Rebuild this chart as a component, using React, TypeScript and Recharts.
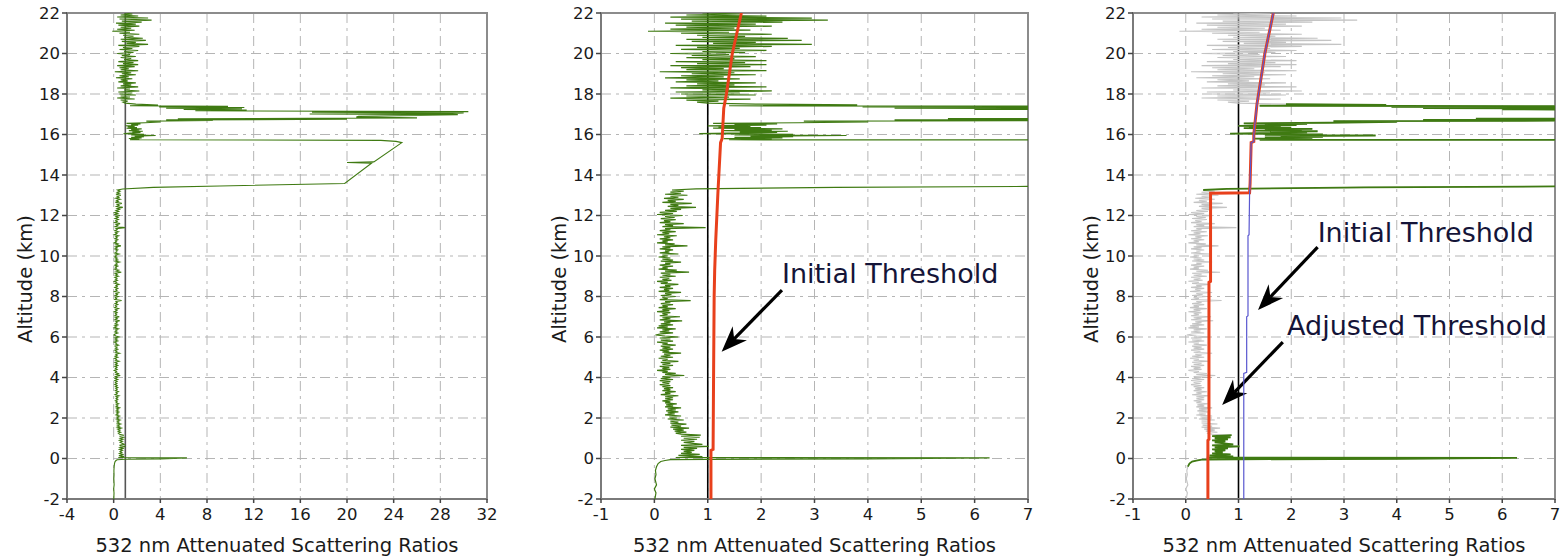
import React from 'react';
import {
  ScatterChart,
  Scatter,
  XAxis,
  YAxis,
  CartesianGrid,
  ReferenceLine,
  ReferenceArea,
  ReferenceDot,
} from 'recharts';

// [altitude (km), 532 nm attenuated scattering ratio]
type Pair = [number, number];

const altitudeTicks = [-2, 0, 2, 4, 6, 8, 10, 12, 14, 16, 18, 20, 22];
const wideRatioTicks = [-4, 0, 4, 8, 12, 16, 20, 24, 28, 32];
const narrowRatioTicks = [-1, 0, 1, 2, 3, 4, 5, 6, 7];

const upperNoise: Pair[] = [
  [22.0, 0.9], [21.95, 1.6], [21.9, 0.6], [21.85, 2.1], [21.8, 0.3], [21.75, 2.95], [21.7, 0.5],
  [21.65, 3.25], [21.6, 0.7], [21.55, 2.4], [21.5, 0.2], [21.45, 1.9], [21.4, 0.4], [21.35, 2.2],
  [21.3, 0.6], [21.25, 1.5], [21.2, 0.3], [21.15, 1.8], [21.1, -0.12], [21.05, 1.4], [21.0, 0.5],
  [20.95, 2.2], [20.9, 0.8], [20.85, 1.7], [20.8, 0.9], [20.75, 2.5], [20.7, 0.6], [20.65, 2.76],
  [20.6, 0.7], [20.55, 1.9], [20.5, 1.1], [20.45, 2.95], [20.4, 0.4], [20.35, 2.2], [20.3, 0.8],
  [20.25, 1.6], [20.2, 0.5], [20.15, 2.1], [20.1, 0.9], [20.05, 1.7], [20.0, 0.3], [19.95, 1.4],
  [19.9, 0.7], [19.85, 1.9], [19.8, 0.6], [19.75, 1.5], [19.7, 0.9], [19.65, 2.1], [19.6, 0.4],
  [19.55, 1.7], [19.5, 0.8], [19.45, 2.1], [19.4, 0.3], [19.35, 1.8], [19.3, 0.5], [19.25, 1.3],
  [19.2, 0.6], [19.15, 2.1], [19.1, 0.1], [19.05, 1.5], [19.0, 0.7], [18.95, 1.9], [18.9, 0.5],
  [18.85, 1.3], [18.8, 0.2], [18.75, 1.6], [18.7, 0.6], [18.65, 1.2], [18.6, 0.4], [18.55, 1.9],
  [18.5, 0.8], [18.45, 1.5], [18.4, 0.6], [18.35, 2.1], [18.3, 0.3], [18.25, 1.4], [18.2, 0.9],
  [18.15, 2.2], [18.1, 0.4], [18.05, 1.6], [18.0, 0.5], [17.95, 1.9], [17.9, 0.6], [17.85, 1.4],
  [17.8, 0.3], [17.75, 1.8], [17.7, 0.6], [17.65, 1.2], [17.6, 0.8], [17.55, 1.0],
];

const cirrusLayer: Pair[] = [
  [17.5, 1.9], [17.46, 3.8], [17.42, 1.4], [17.39, 9.8], [17.36, 3.9], [17.33, 11.2], [17.3, 4.5],
  [17.27, 11.0], [17.24, 6.0], [17.21, 11.4], [17.17, 7.0], [17.13, 30.4], [17.1, 17.0],
  [17.07, 30.0], [17.04, 29.0], [17.01, 16.8], [16.98, 29.5], [16.94, 26.3], [16.9, 21.0],
  [16.86, 20.8], [16.82, 26.0], [16.78, 5.5], [16.75, 20.0], [16.72, 4.5], [16.69, 8.5],
  [16.66, 2.8], [16.62, 4.0], [16.58, 2.7], [16.55, 1.1], [16.52, 2.3], [16.49, 1.5], [16.46, 2.1],
  [16.43, 1.0], [16.4, 1.8], [16.37, 1.2], [16.34, 2.0], [16.31, 1.1], [16.28, 2.4], [16.25, 1.5],
  [16.22, 2.2], [16.19, 1.3], [16.16, 2.5], [16.13, 1.6], [16.1, 2.3], [16.07, 1.4], [16.04, 0.84],
  [16.01, 2.6], [15.98, 1.5], [15.95, 3.6], [15.92, 1.8], [15.89, 2.6], [15.86, 1.5], [15.83, 2.4],
  [15.8, 1.3], [15.77, 2.2], [15.74, 1.4],
];

const dataGapSegment: Pair[] = [
  [15.71, 22.9], [15.66, 24.2], [15.6, 24.7], [14.65, 22.3], [14.62, 20.0], [14.58, 22.1],
  [13.58, 19.8], [13.46, 9.1], [13.39, 3.4], [13.31, 0.78], [13.26, 0.33],
];

const lowerNoise: Pair[] = [
  [13.2, 0.55], [13.15, 0.3], [13.1, 0.5], [13.05, 0.2], [13.0, 0.62], [12.95, 0.3], [12.9, 0.45],
  [12.85, 0.18], [12.8, 0.55], [12.75, 0.25], [12.7, 0.4], [12.65, 0.15], [12.6, 0.7], [12.55, 0.3],
  [12.5, 0.45], [12.45, 0.25], [12.4, 0.78], [12.35, 0.3], [12.3, 0.5], [12.25, 0.2], [12.2, 0.42],
  [12.15, 0.1], [12.1, 0.35], [12.05, 0.05], [12.0, 0.53],
  [11.95, 0.2], [11.9, 0.38], [11.85, 0.12], [11.8, 0.4], [11.75, 0.18], [11.7, 0.3], [11.65, 0.1],
  [11.6, 0.55], [11.55, 0.2], [11.5, 0.35], [11.45, 0.15], [11.4, 0.96], [11.35, 0.2], [11.3, 0.3],
  [11.25, 0.1], [11.2, 0.4], [11.15, 0.15], [11.1, 0.28], [11.05, 0.05], [11.0, 0.42],
  [10.95, 0.18], [10.9, 0.3], [10.85, 0.1], [10.8, 0.35], [10.75, 0.15], [10.7, 0.25], [10.65, 0.05],
  [10.6, 0.38], [10.55, 0.2], [10.5, 0.62], [10.45, 0.15], [10.4, 0.3], [10.35, 0.1], [10.3, 0.35],
  [10.25, 0.2], [10.2, 0.28], [10.15, 0.1], [10.1, 0.45], [10.05, 0.15], [10.0, 0.25],
  [9.95, 0.08], [9.9, 0.3], [9.85, 0.15], [9.8, 0.35], [9.75, 0.12], [9.7, 0.5], [9.65, 0.2],
  [9.6, 0.3], [9.55, 0.1], [9.5, 0.35], [9.45, 0.15], [9.4, 0.25], [9.35, 0.08], [9.3, 0.42],
  [9.25, 0.2], [9.2, 0.65], [9.15, 0.12], [9.1, 0.3], [9.05, 0.15], [9.0, 0.4],
  [8.95, 0.1], [8.9, 0.28], [8.85, 0.15], [8.8, 0.32], [8.75, 0.05], [8.7, 0.25], [8.65, 0.12],
  [8.6, 0.45], [8.55, 0.2], [8.5, 0.3], [8.45, 0.1], [8.4, 0.35], [8.35, 0.18], [8.3, 0.28],
  [8.25, 0.08], [8.2, 0.5], [8.15, 0.2], [8.1, 0.32], [8.05, 0.12], [8.0, 0.4],
  [7.95, 0.15], [7.9, 0.25], [7.85, 0.1], [7.8, 0.68], [7.75, 0.2], [7.7, 0.3], [7.65, 0.12],
  [7.6, 0.35], [7.55, 0.15], [7.5, 0.25], [7.45, 0.08], [7.4, 0.4], [7.35, 0.15], [7.3, 0.28],
  [7.25, 0.05], [7.2, 0.3], [7.15, 0.15], [7.1, 0.25], [7.05, 0.1], [7.0, 0.48],
  [6.95, 0.15], [6.9, 0.3], [6.85, 0.1], [6.8, 0.52], [6.75, 0.18], [6.7, 0.3], [6.65, 0.12],
  [6.6, 0.35], [6.55, 0.08], [6.5, 0.25], [6.45, 0.05], [6.4, 0.4], [6.35, 0.15], [6.3, 0.28],
  [6.25, 0.1], [6.2, 0.35], [6.15, 0.12], [6.1, 0.02], [6.05, 0.2], [6.0, 0.45],
  [5.95, 0.1], [5.9, 0.3], [5.85, 0.12], [5.8, 0.35], [5.75, 0.05], [5.7, 0.25], [5.65, 0.15],
  [5.6, 0.4], [5.55, 0.12], [5.5, 0.3], [5.45, 0.15], [5.4, 0.35], [5.35, 0.1], [5.3, 0.28],
  [5.25, 0.15], [5.2, 0.5], [5.15, 0.18], [5.1, 0.3], [5.05, 0.12], [5.0, 0.35],
  [4.95, 0.08], [4.9, 0.25], [4.85, 0.15], [4.8, 0.45], [4.75, 0.12], [4.7, 0.3], [4.65, 0.15],
  [4.6, 0.35], [4.55, 0.1], [4.5, 0.28], [4.45, 0.15], [4.4, 0.3], [4.35, 0.05], [4.3, 0.25],
  [4.25, 0.15], [4.2, 0.4], [4.15, 0.2], [4.1, 0.56], [4.05, 0.15], [4.0, 0.3],
  [3.95, 0.12], [3.9, 0.35], [3.85, 0.1], [3.8, 0.3], [3.75, 0.15], [3.7, 0.28], [3.65, 0.1],
  [3.6, 0.3], [3.55, 0.15], [3.5, 0.35], [3.45, 0.18], [3.4, 0.3], [3.35, 0.15], [3.3, 0.4],
  [3.25, 0.2], [3.2, 0.3], [3.15, 0.12], [3.1, 0.45], [3.05, 0.2], [3.0, 0.35],
  [2.95, 0.2], [2.9, 0.35], [2.85, 0.15], [2.8, 0.3], [2.75, 0.2], [2.7, 0.42], [2.65, 0.22],
  [2.6, 0.35], [2.55, 0.2], [2.5, 0.5], [2.45, 0.25], [2.4, 0.4], [2.35, 0.22], [2.3, 0.45],
  [2.25, 0.25], [2.2, 0.38], [2.15, 0.2], [2.1, 0.5], [2.05, 0.28], [2.0, 0.42],
  [1.95, 0.25], [1.9, 0.55], [1.85, 0.3], [1.8, 0.45], [1.75, 0.3], [1.7, 0.6], [1.65, 0.32],
  [1.6, 0.5], [1.55, 0.3], [1.5, 0.65], [1.45, 0.35], [1.4, 0.55], [1.35, 0.38], [1.3, 0.6],
  [1.25, 0.4], [1.2, 0.5],
  [1.15, 0.87], [1.1, 0.5], [1.05, 0.85], [1.0, 0.55], [0.95, 0.8], [0.9, 0.5], [0.85, 0.75],
  [0.8, 0.55], [0.7, 0.9], [0.65, 0.5], [0.6, 1.02], [0.55, 0.55], [0.5, 0.8], [0.45, 0.5],
  [0.4, 0.75], [0.35, 0.55], [0.3, 0.7], [0.25, 0.5], [0.2, 0.85], [0.15, 0.45], [0.1, 0.9],
  [0.05, 0.4],
];

const surfaceReturn: Pair[] = [
  [0.03, 6.28], [-0.02, 4.0], [-0.04, 1.0], [-0.06, 0.3], [-0.1, 0.2], [-0.15, 0.12],
  [-0.25, 0.07], [-0.4, 0.04], [-0.6, 0.02], [-0.8, 0.03], [-1.0, 0.01], [-1.3, 0.04],
  [-1.5, 0.0], [-1.7, 0.03], [-2.0, 0.01],
];

const initialThresholdMiddle: Pair[] = [
  [-2, 1.06], [0.4, 1.06], [0.45, 1.1], [4.4, 1.11], [8, 1.12], [9.3, 1.13], [10.8, 1.15],
  [13.1, 1.19], [15.6, 1.24], [15.8, 1.27], [17.3, 1.3], [18, 1.35], [20, 1.46], [22, 1.63],
];

const initialThresholdRight: Pair[] = [
  [-2, 1.1], [4.2, 1.1], [4.25, 1.155], [7, 1.155], [7.05, 1.18], [11, 1.18], [11.05, 1.2],
  [13.1, 1.21], [13.6, 1.22], [15.6, 1.24], [15.65, 1.29], [16, 1.29], [17.5, 1.35], [18, 1.38],
  [20, 1.5], [22, 1.66],
];

const adjustedThreshold: Pair[] = [
  [-2, 0.42], [0.9, 0.42], [0.95, 0.44], [8.7, 0.44], [8.75, 0.47], [13.1, 0.47], [13.12, 1.21],
  [13.6, 1.22], [15.6, 1.24], [15.65, 1.29], [16, 1.29], [17.5, 1.35], [18, 1.38], [20, 1.5],
  [22, 1.66],
];

// altitude ranges (km) flagged as layers in the right panel
const layerBounds: Pair[] = [[-0.55, 1.16], [13.24, 17.5]];

const FONT = '"DejaVu Sans", Verdana, sans-serif';
const GREEN = '#3f7a12';

const toPoints = (arr: Pair[]) => arr.map(([alt, r]) => ({ x: r, y: alt }));
const profile: Pair[] = [...upperNoise, ...cirrusLayer, ...dataGapSegment, ...lowerNoise, ...surfaceReturn];
const profilePoints = toPoints(profile);
const layerPoints = layerBounds.map(([lo, hi]) =>
  toPoints(profile.filter(([alt]) => alt >= lo && alt <= hi))
);

const NoDot = () => <g />;

const YTitle = (props: any) => {
  const vb = props.viewBox;
  const cx = vb.x + vb.width - 42;
  const cy = vb.y + vb.height / 2 + 23;
  return (
    <text
      x={cx}
      y={cy}
      transform={`rotate(-90 ${cx} ${cy})`}
      textAnchor="middle"
      dominantBaseline="central"
      fontFamily={FONT}
      fontSize={19.5}
      fill="#1a1a1a"
    >
      Altitude (km)
    </text>
  );
};

const XTitle = (props: any) => {
  const vb = props.viewBox;
  return (
    <text
      x={vb.x + vb.width / 2}
      y={vb.y + 53}
      textAnchor="middle"
      fontFamily={FONT}
      fontSize={19.5}
      fill="#1a1a1a"
    >
      532 nm Attenuated Scattering Ratios
    </text>
  );
};

const Caption = (props: any) => {
  const vb = props.viewBox;
  return (
    <text x={vb.x} y={vb.y} fontFamily={FONT} fontSize={27} fill="#141438">
      {props.caption}
    </text>
  );
};

const Arrow = (props: any) => {
  const { x1, y1, x2, y2 } = props;
  const dx = x2 - x1;
  const dy = y2 - y1;
  const len = Math.sqrt(dx * dx + dy * dy) || 1;
  const ux = dx / len;
  const uy = dy / len;
  const px = -uy;
  const py = ux;
  const head = 26;
  const half = 10;
  const notch = 8;
  const bx = x2 - ux * head;
  const by = y2 - uy * head;
  const nx = x2 - ux * (head - notch);
  const ny = y2 - uy * (head - notch);
  const pts = [
    [x2, y2],
    [bx + px * half, by + py * half],
    [nx, ny],
    [bx - px * half, by - py * half],
  ]
    .map((p) => p.join(','))
    .join(' ');
  return (
    <g>
      <line x1={x1} y1={y1} x2={nx} y2={ny} stroke="#000" strokeWidth={3.2} />
      <polygon points={pts} fill="#000" />
    </g>
  );
};

type PanelProps = {
  left: number;
  width: number;
  marginLeft: number;
  marginRight: number;
  xDomain: [number, number];
  xTicks: number[];
  children: React.ReactNode;
  oneLineColor: string;
};

const Panel = ({ left, width, marginLeft, marginRight, xDomain, xTicks, children, oneLineColor }: PanelProps) => (
  <div style={{ position: 'absolute', left, top: 0 }}>
    <ScatterChart
      width={width}
      height={560}
      margin={{ top: 13, right: marginRight, bottom: 0, left: marginLeft }}
    >
      <CartesianGrid stroke="#b5b5b5" strokeDasharray="10 5 3 5" strokeWidth={1} />
      <XAxis
        type="number"
        dataKey="x"
        domain={xDomain}
        ticks={xTicks}
        interval={0}
        allowDataOverflow
        height={61}
        tickSize={4}
        tickMargin={5}
        axisLine={{ stroke: '#7a7a7a', strokeWidth: 2 }}
        tickLine={{ stroke: '#444', strokeWidth: 1.5 }}
        tick={{ fill: '#1a1a1a', fontSize: 16.5, fontFamily: FONT }}
        label={<XTitle />}
      />
      <YAxis
        type="number"
        dataKey="y"
        domain={[-2, 22]}
        ticks={altitudeTicks}
        interval={0}
        allowDataOverflow
        width={60}
        tickSize={5}
        tickMargin={2}
        axisLine={{ stroke: '#7a7a7a', strokeWidth: 2 }}
        tickLine={{ stroke: '#444', strokeWidth: 1.5 }}
        tick={{ fill: '#1a1a1a', fontSize: 16.5, fontFamily: FONT }}
        label={<YTitle />}
      />
      <ReferenceArea
        x1={xDomain[0]}
        x2={xDomain[1]}
        y1={-2}
        y2={22}
        fill="none"
        fillOpacity={0}
        stroke="#8c8c8c"
        strokeWidth={2}
      />
      <ReferenceLine x={1} stroke={oneLineColor} strokeWidth={1.6} />
      {children}
    </ScatterChart>
  </div>
);

export default function App() {
  return (
    <div
      style={{
        position: 'absolute',
        left: 0,
        top: 0,
        width: 1568,
        height: 560,
        background: '#fff',
        overflow: 'hidden',
        fontFamily: FONT,
      }}
    >
      <Panel left={0} width={520} marginLeft={7} marginRight={33} xDomain={[-4, 32]} xTicks={wideRatioTicks} oneLineColor="#555">
        <Scatter
          data={profilePoints}
          line={{ stroke: GREEN, strokeWidth: 1.1 }}
          shape={NoDot}
          fill={GREEN}
          isAnimationActive={false}
        />
      </Panel>

      <Panel left={520} width={520} marginLeft={21} marginRight={12} xDomain={[-1, 7]} xTicks={narrowRatioTicks} oneLineColor="#000">
        <Scatter
          data={profilePoints}
          line={{ stroke: GREEN, strokeWidth: 1.2 }}
          shape={NoDot}
          fill={GREEN}
          isAnimationActive={false}
        />
        <Scatter
          data={toPoints(initialThresholdMiddle)}
          line={{ stroke: '#e8401c', strokeWidth: 3 }}
          shape={NoDot}
          fill="#e8401c"
          isAnimationActive={false}
        />
        <ReferenceLine
          segment={[{ x: 2.39, y: 8.32 }, { x: 1.26, y: 5.27 }]}
          shape={Arrow}
          ifOverflow="visible"
        />
        <ReferenceDot x={2.39} y={8.67} r={0} fill="none" stroke="none" label={<Caption caption="Initial Threshold" />} />
      </Panel>

      <Panel left={1040} width={528} marginLeft={33} marginRight={13} xDomain={[-1, 7]} xTicks={narrowRatioTicks} oneLineColor="#000">
        <Scatter
          data={profilePoints}
          line={{ stroke: '#c4c4c4', strokeWidth: 1.1 }}
          shape={NoDot}
          fill="#c4c4c4"
          isAnimationActive={false}
        />
        {layerPoints.map((pts, i) => (
          <Scatter
            key={i}
            data={pts}
            line={{ stroke: GREEN, strokeWidth: 1.8 }}
            shape={NoDot}
            fill={GREEN}
            isAnimationActive={false}
          />
        ))}
        <Scatter
          data={toPoints(adjustedThreshold)}
          line={{ stroke: '#e8401c', strokeWidth: 3 }}
          shape={NoDot}
          fill="#e8401c"
          isAnimationActive={false}
        />
        <Scatter
          data={toPoints(initialThresholdRight)}
          line={{ stroke: '#5a58d0', strokeWidth: 1.2 }}
          shape={NoDot}
          fill="#5a58d0"
          isAnimationActive={false}
        />
        <ReferenceLine
          segment={[{ x: 2.5, y: 10.44 }, { x: 1.37, y: 7.33 }]}
          shape={Arrow}
          ifOverflow="visible"
        />
        <ReferenceLine
          segment={[{ x: 1.84, y: 5.75 }, { x: 0.69, y: 2.64 }]}
          shape={Arrow}
          ifOverflow="visible"
        />
        <ReferenceDot x={2.5} y={10.69} r={0} fill="none" stroke="none" label={<Caption caption="Initial Threshold" />} />
        <ReferenceDot x={1.92} y={6.1} r={0} fill="none" stroke="none" label={<Caption caption="Adjusted Threshold" />} />
      </Panel>
    </div>
  );
}
